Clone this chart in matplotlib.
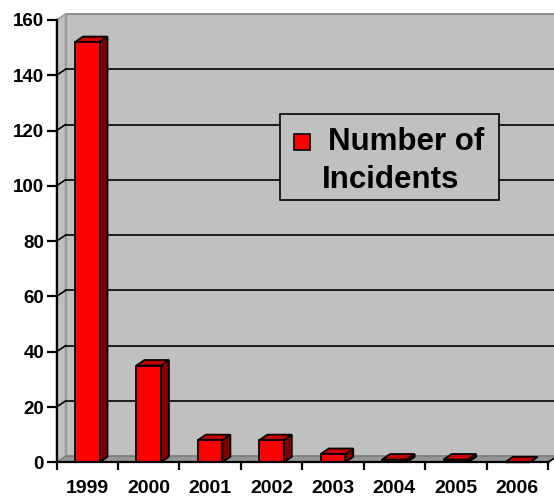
import matplotlib
matplotlib.use("Agg")
from matplotlib import pyplot as plt
from matplotlib.patches import Rectangle, Polygon

years = ["1999", "2000", "2001", "2002", "2003", "2004", "2005", "2006"]
incidents = [152, 35, 8, 8, 3, 1, 1, 0]
yticks = [0, 20, 40, 60, 80, 100, 120, 140, 160]
legend_label = ["Number of", "Incidents"]

W, H = 554, 497
plt.rcParams['font.family'] = ['Liberation Sans', 'DejaVu Sans']
fig = plt.figure(figsize=(W / 100, H / 100), dpi=100)

# front axis box in pixels: x 56.5..548, y 462.3 (0) .. 20 (160)
ax = fig.add_axes([56.5 / W, (H - 462.3) / H, 491.5 / W, 442.3 / H])
ax.set_facecolor("none")
ax.set_xlim(0, 8)
ax.set_ylim(0, 160)

px_x = 491.5 / 8      # pixels per category
px_y = 442.3 / 160    # pixels per unit
dx, dy = 9 / px_x, 6 / px_y        # wall depth
bdx, bdy = 8 / px_x, 5.5 / px_y    # bar depth
wall = "#c0c0c0"
n = len(years)

# walls and floor
ax.add_patch(Rectangle((dx, dy), n, 160, fc=wall, ec="#808080", lw=1.2, zorder=0, clip_on=False))
ax.add_patch(Polygon([(0, 0), (dx, dy), (dx, 160 + dy), (0, 160)], fc=wall, ec="#a0a0a0",
                     lw=1.2, zorder=0, clip_on=False))
ax.add_patch(Polygon([(0, 0), (n, 0), (n + dx, dy), (dx, dy)], fc="#969696", ec="#808080",
                     lw=1, zorder=0.5, clip_on=False))

# gridlines on the back wall and the side wall
for v in yticks[1:-1]:
    ax.plot([dx, n + dx], [v + dy, v + dy], color="black", lw=1.2, zorder=1, clip_on=False)
    ax.plot([0, dx], [v, v + dy], color="black", lw=1.2, zorder=1, clip_on=False)
ax.plot([n, n + dx], [0, dy], color="black", lw=1.2, zorder=1, clip_on=False)

# 3d-ish bars
w = 0.4
for i, v in enumerate(incidents):
    x0 = i + 0.5 - w / 2
    x1 = x0 + w
    ax.add_patch(Polygon([(x1, 0), (x1 + bdx, bdy), (x1 + bdx, v + bdy), (x1, v)],
                         fc="#800000", ec="black", lw=1.3, zorder=3, clip_on=False))
    ax.add_patch(Polygon([(x0, v), (x1, v), (x1 + bdx, v + bdy), (x0 + bdx, v + bdy)],
                         fc="#c80000", ec="black", lw=1.3, zorder=3, clip_on=False))
    if v > 0:
        ax.add_patch(Rectangle((x0, 0), w, v, fc="#ff0000", ec="black", lw=1.3, zorder=3.5,
                               clip_on=False))

for s in ["top", "right"]:
    ax.spines[s].set_visible(False)
for s in ["left", "bottom"]:
    ax.spines[s].set_linewidth(1.6)
    ax.spines[s].set_zorder(4)

ax.set_yticks(yticks)
ax.set_yticklabels([str(t) for t in yticks], fontsize=13.5, fontweight="bold")
ax.set_xticks(range(n + 1))
ax.set_xticklabels([])
ax.set_xticks([i + 0.5 for i in range(n)], minor=True)
ax.set_xticklabels(years, minor=True, fontsize=14, fontweight="bold")
ax.tick_params(axis="y", direction="out", length=7, width=1.6, pad=2)
ax.tick_params(axis="x", which="major", direction="out", length=6, width=1.6)
ax.tick_params(axis="x", which="minor", length=0, pad=13)

# legend drawn by hand (marker sits beside the first line)
tf = fig.transFigure
ax.add_patch(Rectangle((280 / W, (H - 200) / H), 219 / W, 86 / H, transform=tf, fc=wall,
                       ec="black", lw=1.2, zorder=6, clip_on=False))
ax.add_patch(Rectangle((293.5 / W, (H - 150) / H), 16 / W, 16 / H, transform=tf, fc="#ff0000",
                       ec="black", lw=1.2, zorder=7, clip_on=False))
ax.text(328 / W, (H - 150) / H, legend_label[0], transform=tf, fontsize=22.5, fontweight="bold",
        va="baseline", ha="left", zorder=7)
ax.text(321.5 / W, (H - 188) / H, legend_label[1], transform=tf, fontsize=22.5, fontweight="bold",
        va="baseline", ha="left", zorder=7)

plt.savefig("out.png", dpi=100)
